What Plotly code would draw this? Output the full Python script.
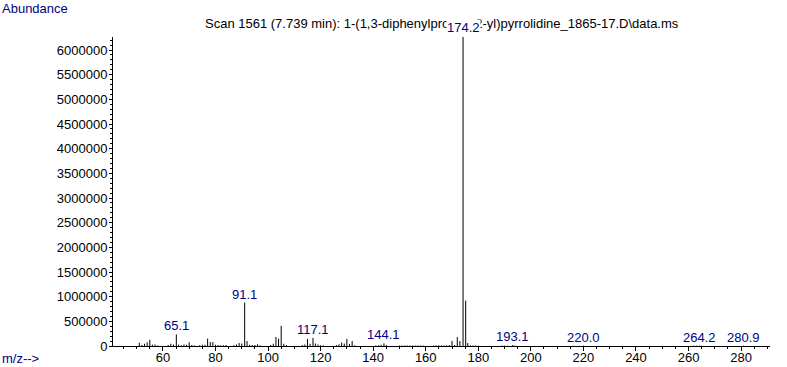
import plotly.graph_objects as go

# ---- data ----
mz = [51, 52, 53, 54, 55, 56, 57, 58, 62, 63, 64, 65.1, 66, 67, 68, 69, 70, 71, 72, 74, 75, 76,
      77, 78, 79, 80, 81, 82, 83, 84, 87, 88, 89, 90, 91.1, 92, 93, 94, 95, 96, 97,
      101, 102, 103, 104, 105, 106, 107, 113, 114, 115, 116, 117.1, 118, 119, 120, 121,
      126, 127, 128, 129, 130, 131, 132, 133, 141, 142, 143, 144.1, 145,
      150, 151, 152, 153, 154, 155, 156, 157, 158, 159, 163, 164, 165, 166, 167, 168, 169,
      170, 171, 172, 173, 174.2, 175.2, 176, 177, 178, 179, 180,
      189, 190, 191, 193.1, 194, 216, 220.0, 262, 263, 264.2, 265, 280.9]
abundance = [65000, 20000, 45000, 75000, 125000, 25000, 30000, 10000, 20000, 45000, 30000, 235000,
             30000, 15000, 30000, 25000, 75000, 20000, 10000, 15000, 25000, 25000,
             150000, 80000, 80000, 25000, 20000, 15000, 15000, 20000, 15000, 30000, 60000, 50000,
             880000, 100000, 25000, 20000, 20000, 35000, 15000,
             20000, 45000, 185000, 150000, 410000, 45000, 20000, 20000, 30000, 145000, 45000,
             165000, 50000, 30000, 15000, 10000,
             20000, 35000, 70000, 50000, 145000, 40000, 100000, 15000, 10000, 15000, 25000, 55000, 20000,
             10000, 10000, 10000, 10000, 10000, 10000, 10000, 10000, 10000, 10000,
             10000, 12000, 15000, 12000, 10000, 15000, 20000,
             100000, 20000, 180000, 100000, 6264000, 920000, 60000, 15000, 10000, 10000, 8000,
             8000, 8000, 8000, 20000, 8000, 6000, 8000, 6000, 6000, 8000, 6000, 5000]

labelled_mz = [65.1, 91.1, 117.1, 144.1, 174.2, 193.1, 220.0, 264.2, 280.9]
label_text = ["65.1", "91.1", "117.1", "144.1", "174.2", "193.1", "220.0", "264.2", "280.9"]

title_text = "Scan 1561 (7.739 min): 1-(1,3-diphenylpropan-2-yl)pyrrolidine_1865-17.D\\data.ms"
y_ticks = list(range(0, 6000001, 500000))
x_ticks = list(range(60, 281, 20))

# ---- build sticks ----
xs, ys = [], []
for m, a in zip(mz, abundance):
    xs += [m, m, None]
    ys += [0, a, None]

FONT = "Liberation Sans, Arial, sans-serif"
NAVY = "rgb(0,0,128)"

fig = go.Figure()
fig.add_trace(go.Scatter(x=xs, y=ys, mode="lines",
                         line=dict(color="black", width=1),
                         hoverinfo="skip", showlegend=False))

W, H = 787, 367
L, R, T, B = 113, 17, 37, 21
pw, ph = W - L - R, H - T - B

def px(x):
    return (x - L) / pw

def py(y):
    return (H - B - y) / ph

fig.add_annotation(x=0.5, y=py(23), xref="paper", yref="paper", text=title_text,
                   showarrow=False, xanchor="center", yanchor="middle",
                   font=dict(family=FONT, size=13, color="black"))

lookup = dict(zip(mz, abundance))
for m, t in zip(labelled_mz, label_text):
    top = t == "174.2"
    fig.add_annotation(x=m, y=lookup[m], text=t, showarrow=False,
                       xanchor="center", yanchor="bottom", yshift=1 if top else 0,
                       font=dict(family=FONT, size=13, color=NAVY),
                       bgcolor="white" if top else None,
                       borderpad=0)

fig.add_annotation(x=px(0), y=py(8.5), xref="paper", yref="paper", text="Abundance",
                   showarrow=False, xanchor="left", yanchor="middle",
                   font=dict(family=FONT, size=13, color=NAVY))
fig.add_annotation(x=px(0), y=py(358.5), xref="paper", yref="paper", text="m/z-->",
                   showarrow=False, xanchor="left", yanchor="middle",
                   font=dict(family=FONT, size=13, color=NAVY))

fig.update_layout(
    width=W, height=H, autosize=False,
    margin=dict(l=L, r=R, t=T, b=B, pad=0, autoexpand=False),
    paper_bgcolor="white", plot_bgcolor="white",
    font=dict(family=FONT, size=13, color="black"),
    xaxis=dict(range=[41, 291], tickvals=x_ticks, ticks="outside", ticklen=4,
               tickcolor="black", showline=True, linecolor="black", linewidth=1,
               showgrid=False, zeroline=False, ticklabelstandoff=-5,
               minor=dict(dtick=5, tick0=0, ticks="outside", ticklen=2, tickcolor="black")),
    yaxis=dict(range=[0, 6264000], tickvals=y_ticks, tickformat="d", ticks="outside",
               ticklen=3, tickcolor="black", showline=True, linecolor="black", linewidth=1,
               showgrid=False, zeroline=False, ticklabelstandoff=-1,
               minor=dict(dtick=100000, tick0=0, ticks="outside", ticklen=2, tickcolor="black")),
)

css_fix = (
    "var s=document.createElement('style');"
    "s.textContent='html,body{margin:0;padding:0;overflow:hidden;}';"
    "document.head.appendChild(s);"
    "document.body.style.margin='0';"
)

fig.write_html("out.html",
               config={"displayModeBar": False, "staticPlot": True, "responsive": False},
               post_script=css_fix)
